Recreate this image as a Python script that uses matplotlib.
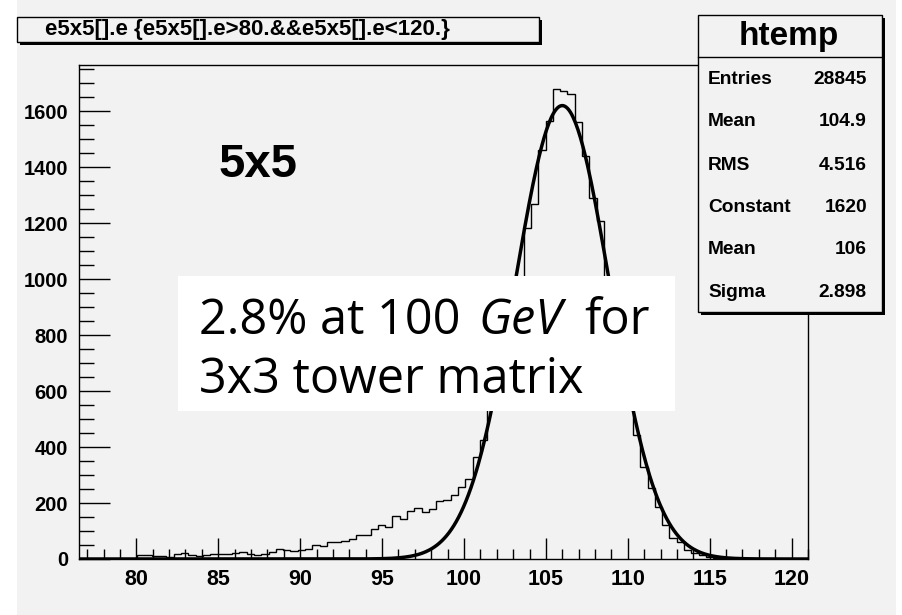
import numpy as np
import matplotlib
matplotlib.use("Agg")
from matplotlib import pyplot as plt
from matplotlib.patches import Rectangle
from matplotlib.ticker import MultipleLocator

W, H = 903, 615

# htemp: 100 bins between 76.5 and 121
bin_lo, bin_hi, nbins = 76.5, 121.0, 100
counts = [0, 0, 0, 0, 0, 0, 0, 0,
          14, 14, 10, 10, 8, 18, 22, 14, 10, 16,
          18, 18, 18, 20, 25, 18, 14, 18, 24, 36,
          32, 28, 32, 34, 50, 46, 60, 60, 64, 70,
          86, 84, 108, 121, 115, 154, 144, 172, 184, 167,
          180, 206, 210, 228, 256, 285, 365, 425, 550, 670,
          800, 940, 995, 1181, 1267, 1463, 1564, 1681, 1671, 1660,
          1562, 1440, 1290, 1207, 990, 870, 720, 590, 443, 330,
          252, 187, 121, 74, 62, 31, 23, 14, 8, 5,
          3, 2, 1, 1, 0, 0, 0, 0, 0, 0,
          0, 0]

# gaus fit
fit_const, fit_mean, fit_sigma = 1620.0, 106.0, 2.898

title = "e5x5[].e {e5x5[].e>80.&&e5x5[].e<120.}"
stat_names = ["Entries", "Mean", "RMS", "Constant", "Mean", "Sigma"]
stat_values = ["28845", "104.9", "4.516", "1620", "106", "2.898"]

bg = "#f2f2f2"
plt.rcParams["font.family"] = ["Liberation Sans", "DejaVu Sans"]
plt.rcParams["font.weight"] = "bold"


def fx(px):
    return px / W


def fy(py):
    return 1 - py / H


def pave(x0, y0, x1, y1, fc=bg, shadow=3, z=5):
    # ROOT style pave: filled box with drop shadow at right/bottom
    fig.add_artist(Rectangle((fx(x0 + shadow), fy(y1 + shadow)), fx(x1 - x0), (y1 - y0) / H,
                             transform=fig.transFigure, fc="k", ec="none", zorder=z))
    fig.add_artist(Rectangle((fx(x0), fy(y1)), fx(x1 - x0), (y1 - y0) / H,
                             transform=fig.transFigure, fc=fc, ec="k", lw=1, zorder=z + 0.1))


fig = plt.figure(figsize=(W / 100, H / 100), dpi=100, facecolor="white")
# canvas area (white strip on the left and right)
fig.add_artist(Rectangle((fx(17), 0), fx(896 - 17), 1, transform=fig.transFigure,
                         fc=bg, ec="none", zorder=0))

ax = fig.add_axes([fx(79), fy(559), fx(808 - 79), (559 - 65) / H])
ax.set_facecolor(bg)

edges = np.linspace(bin_lo, bin_hi, nbins + 1)
ax.stairs(counts, edges, color="k", lw=1.0, zorder=2)

xf = np.linspace(bin_lo, bin_hi, 600)
yf = fit_const * np.exp(-0.5 * ((xf - fit_mean) / fit_sigma) ** 2)
ax.plot(xf, yf, color="k", lw=2.5, zorder=3, solid_capstyle="butt")

ax.set_xlim(bin_lo, bin_hi)
ax.set_ylim(0, 1.05 * max(counts))
ax.xaxis.set_major_locator(MultipleLocator(5))
ax.xaxis.set_minor_locator(MultipleLocator(1))
ax.yaxis.set_major_locator(MultipleLocator(200))
ax.yaxis.set_minor_locator(MultipleLocator(50))
ax.tick_params(axis="x", which="major", direction="in", length=15, width=1, pad=7,
               labelsize=15.5, top=False)
ax.tick_params(axis="x", which="minor", direction="in", length=7.5, width=1, top=False)
ax.tick_params(axis="y", which="major", direction="in", length=22, width=1, pad=8,
               labelsize=14.5, right=False)
ax.tick_params(axis="y", which="minor", direction="in", length=11, width=1, right=False)
for lab in ax.get_xticklabels() + ax.get_yticklabels():
    lab.set_fontweight("bold")
for sp in ax.spines.values():
    sp.set_linewidth(1)

ax.text(85.0, 1407, "5x5", fontsize=34, fontweight="bold", va="center", ha="left")

# annotation box over the plot
fig.add_artist(Rectangle((fx(178), fy(411)), fx(675 - 178), (411 - 276) / H,
                         transform=fig.transFigure, fc="white", ec="none", zorder=4))
note_kw = dict(fontsize=35, fontweight="normal", family="Open Sans", va="baseline",
               ha="left", zorder=4.5)
fig.text(fx(199), fy(334), "2.8% at 100", **note_kw)
fig.text(fx(478), fy(334), "GeV", style="italic", **note_kw)
fig.text(fx(584), fy(334), "for", **note_kw)
fig.text(fx(199), fy(393), "3x3 tower matrix", **note_kw)

# title pave
pave(17, 17, 539, 42)
fig.text(fx(45), fy(29.5), title, fontsize=16, fontweight="bold", va="center", ha="left", zorder=6)

# stats pave
pave(698, 15, 882, 312)
fig.add_artist(plt.Line2D([fx(698), fx(882)], [fy(57), fy(57)], transform=fig.transFigure,
                          color="k", lw=1, zorder=6))
fig.text(fx(789), fy(37), "htemp", fontsize=24, fontweight="bold", ha="center", va="center", zorder=6)
row_y = [80, 122, 166, 207, 249, 292]
for name, val, ry in zip(stat_names, stat_values, row_y):
    fig.text(fx(708), fy(ry), name, fontsize=13.8, fontweight="bold", va="center", ha="left", zorder=6)
    fig.text(fx(867), fy(ry), val, fontsize=13.8, fontweight="bold", va="center", ha="right", zorder=6)

fig.savefig("out.png", dpi=100, facecolor="white")
